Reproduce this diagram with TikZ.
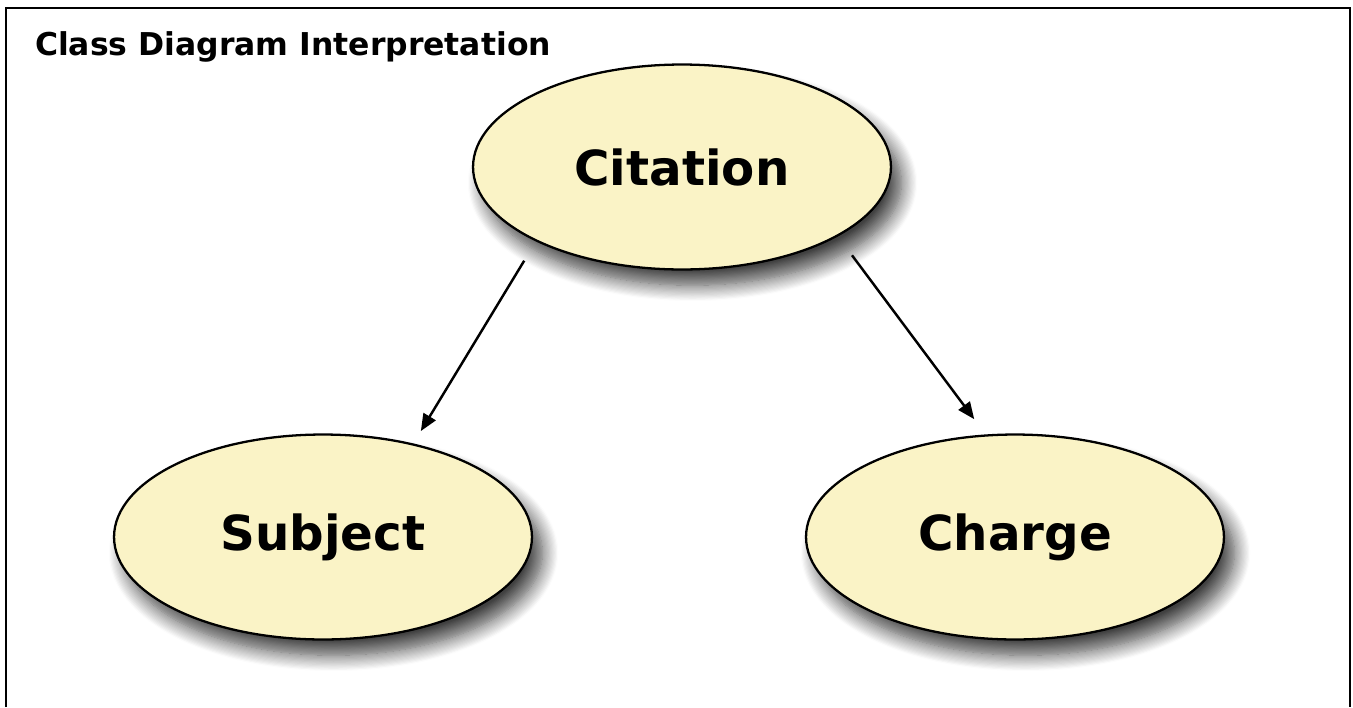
\documentclass[tikz,border=0pt]{standalone}
\usepackage{fontspec}
\setmainfont{DejaVu Sans}
\usetikzlibrary{arrows.meta,shapes.geometric,shadows.blur}
\definecolor{classfill}{RGB}{250,243,198}

\begin{document}
\begin{tikzpicture}[x=0.02cm, y=-0.02cm, line width=1.4pt, -{Triangle[length=3.4mm,width=2.8mm]},
  classnode/.style={ellipse, draw, line width=1.3pt, fill=classfill, minimum width=8.36cm, minimum height=4.1cm, inner sep=0pt,
    font=\fontsize{27.5}{33}\selectfont\bfseries,
    blur shadow={shadow xshift=6pt, shadow yshift=-9pt, shadow blur radius=9pt, shadow blur steps=14, shadow opacity=75}}]
	\useasboundingbox (0,0) rectangle (1353,707);
	\draw[-, line width=1.6pt] (6,707) -- (6,8) -- (1350,8) -- (1350,707);
	\node[anchor=base west, font=\fontsize{17.9}{21}\selectfont\bfseries] (title) at (28,55) {Class Diagram Interpretation};
	\node[classnode] (citation) at (682,167) {Citation};
	\node[classnode] (subject) at (323,537) {Subject};
	\node[classnode] (charge) at (1015,537) {Charge};
	\draw[shorten <=0.45cm, shorten >=0.29cm] (citation.207) -- (subject.46);
	\draw[shorten <=0.47cm, shorten >=0.38cm] (citation.336) -- (charge.106);
\end{tikzpicture}
\end{document}
